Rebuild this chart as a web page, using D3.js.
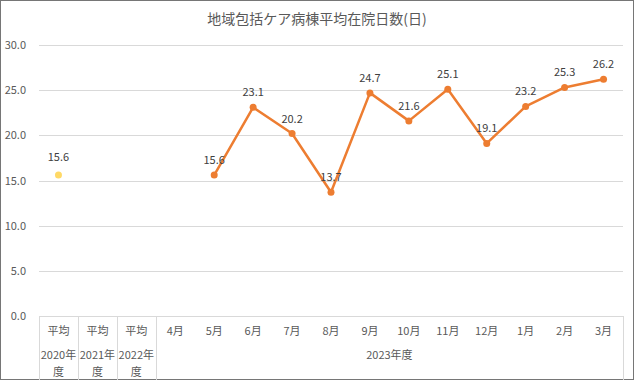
<!DOCTYPE html>
<html><head><meta charset="utf-8">
<script src="https://cdn.jsdelivr.net/npm/d3@7"></script>
<style>
html,body{margin:0;padding:0;background:#fff;}
svg{display:block;}
text{font-family:"Noto Sans CJK JP","Noto Sans",sans-serif;}
</style></head>
<body>
<script>
const title = "地域包括ケア病棟平均在院日数(日)";
const categories = ["2020avg","2021avg","2022avg","4月","5月","6月","7月","8月","9月","10月","11月","12月","1月","2月","3月"];
const topLabels = ["平均","平均","平均","4月","5月","6月","7月","8月","9月","10月","11月","12月","1月","2月","3月"];
const avgYearLabels = ["2020年","2021年","2022年"];
const groupLabel = "2023年度";
const avgValues = [15.6, null, null];
const monthCategories = ["4月","5月","6月","7月","8月","9月","10月","11月","12月","1月","2月","3月"];
const monthValues = [null, 15.6, 23.1, 20.2, 13.7, 24.7, 21.6, 25.1, 19.1, 23.2, 25.3, 26.2];
const yTicks = [0,5,10,15,20,25,30];

const W=634,H=380;
const svg=d3.select("body").append("svg").attr("width",W).attr("height",H);
svg.append("rect").attr("x",0.5).attr("y",0.5).attr("width",W-1).attr("height",H-1).attr("fill","#fff").attr("stroke","#767676");

const x0=39,x1=623,yTop=45,yBot=316;
const x=d3.scaleBand().domain(categories).range([x0,x1]).paddingInner(0).paddingOuter(0);
const y=d3.scaleLinear().domain([0,30]).range([yBot,yTop]);

svg.append("text").attr("x",317).attr("y",24).attr("text-anchor","middle").attr("font-size",14).attr("fill","#595959").text(title);

// grid
svg.append("g").selectAll("line").data(yTicks).join("line")
 .attr("x1",x0).attr("x2",x1).attr("y1",d=>Math.round(y(d))+0.5).attr("y2",d=>Math.round(y(d))+0.5)
 .attr("stroke","#d9d9d9").attr("stroke-width",1);
svg.append("g").selectAll("text").data(yTicks).join("text")
 .attr("x",26).attr("y",d=>y(d)+4).attr("text-anchor","end").attr("font-size",11).attr("fill","#595959")
 .text(d=>d3.format(".1f")(d));

// category table lines
const sepX=[x0, x("2021avg"), x("2022avg"), x("4月"), x1];
svg.append("g").selectAll("line").data(sepX).join("line")
 .attr("x1",d=>Math.round(d)+0.5).attr("x2",d=>Math.round(d)+0.5).attr("y1",yBot).attr("y2",H)
 .attr("stroke","#d9d9d9");
svg.append("text").attr("x",0).attr("y",0);
// top row labels
svg.append("g").selectAll("text").data(categories).join("text")
 .attr("x",d=>x(d)+x.bandwidth()/2).attr("y",335).attr("text-anchor","middle").attr("font-size",11).attr("fill","#595959")
 .text((d,i)=>topLabels[i]);
const avgCats=categories.slice(0,3);
svg.append("g").selectAll("text").data(avgCats).join("text")
 .attr("x",d=>x(d)+x.bandwidth()/2).attr("y",359).attr("text-anchor","middle").attr("font-size",11).attr("fill","#595959")
 .text((d,i)=>avgYearLabels[i]);
svg.append("g").selectAll("text").data(avgCats).join("text")
 .attr("x",d=>x(d)+x.bandwidth()/2).attr("y",376).attr("text-anchor","middle").attr("font-size",11).attr("fill","#595959")
 .text("度");
svg.append("text").attr("x",(x("4月")+x1)/2).attr("y",359).attr("text-anchor","middle").attr("font-size",11).attr("fill","#595959").text(groupLabel);

// average points
const avgData=avgCats.map((c,i)=>({c,v:avgValues[i]})).filter(d=>d.v!=null);
svg.append("g").selectAll("circle").data(avgData).join("circle")
 .attr("cx",d=>x(d.c)+x.bandwidth()/2).attr("cy",d=>y(d.v)).attr("r",3.5).attr("fill","#FFD966");
svg.append("g").selectAll("text").data(avgData).join("text")
 .attr("x",d=>x(d.c)+x.bandwidth()/2).attr("y",d=>y(d.v)-14).attr("text-anchor","middle").attr("font-size",11).attr("fill","#404040")
 .text(d=>d3.format(".1f")(d.v));

// month series
const mData=monthCategories.map((c,i)=>({c,v:monthValues[i]})).filter(d=>d.v!=null);
const line=d3.line().x(d=>x(d.c)+x.bandwidth()/2).y(d=>y(d.v));
svg.append("path").datum(mData).attr("d",line).attr("fill","none").attr("stroke","#ED7D31").attr("stroke-width",2.5).attr("stroke-linejoin","round");
svg.append("g").selectAll("circle").data(mData).join("circle")
 .attr("cx",d=>x(d.c)+x.bandwidth()/2).attr("cy",d=>y(d.v)).attr("r",3.5).attr("fill","#ED7D31");
svg.append("g").selectAll("text").data(mData).join("text")
 .attr("x",d=>x(d.c)+x.bandwidth()/2).attr("y",d=>y(d.v)-11).attr("text-anchor","middle").attr("font-size",11).attr("fill","#404040")
 .text(d=>d3.format(".1f")(d.v));
</script>
</body></html>
